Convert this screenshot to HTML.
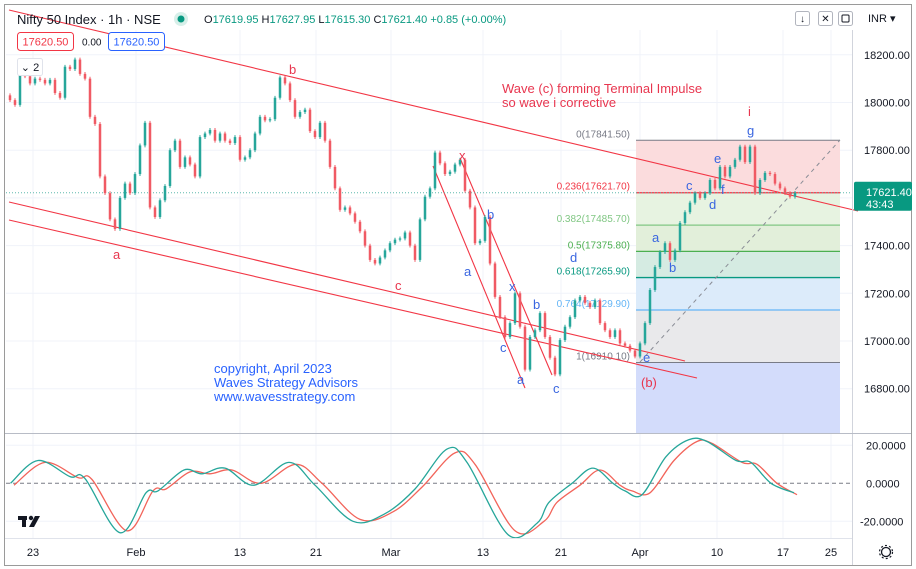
<!DOCTYPE html>
<html><head><meta charset="utf-8">
<style>
html,body{margin:0;padding:0;background:#fff;}
svg{display:block;font-family:"Liberation Sans",sans-serif;}
</style></head>
<body>
<svg id="chart" width="916" height="569" viewBox="0 0 916 569" xmlns="http://www.w3.org/2000/svg">
<rect x="0" y="0" width="916" height="569" fill="#fff"/>
<rect x="4.5" y="4.5" width="907" height="561" fill="none" stroke="#9a9a9a" stroke-width="1"/>
<g id="grid"></g>
<g id="fib"></g>
<g id="lines"></g>
<g id="candles"></g>
<g id="osc"></g>
<g id="axes"></g>

<text x="17" y="24" font-size="13" fill="#131722">Nifty 50 Index · 1h · NSE</text>
<circle cx="181" cy="19" r="7" fill="#d7efe9"/>
<circle cx="181" cy="19" r="3.5" fill="#089981"/>
<text x="204" y="23" font-size="11" fill="#089981"><tspan fill="#131722">O</tspan>17619.95 <tspan fill="#131722">H</tspan>17627.95 <tspan fill="#131722">L</tspan>17615.30 <tspan fill="#131722">C</tspan>17621.40 +0.85 (+0.00%)</text>
<rect x="17.5" y="32.5" width="56" height="18" rx="3" fill="#fff" stroke="#f23645"/>
<text x="45.5" y="45.5" font-size="11" fill="#f23645" text-anchor="middle">17620.50</text>
<text x="82" y="45.5" font-size="10" fill="#131722">0.00</text>
<rect x="108.5" y="32.5" width="56" height="18" rx="3" fill="#fff" stroke="#2962ff"/>
<text x="136.5" y="45.5" font-size="11" fill="#2962ff" text-anchor="middle">17620.50</text>
<rect x="17.5" y="58.5" width="25" height="17" rx="2" fill="#fff" stroke="#e0e3eb"/>
<text x="30" y="71" font-size="11" fill="#131722" text-anchor="middle">⌄ 2</text>
<g>
<rect x="795.5" y="11.5" width="14" height="14" rx="2" fill="none" stroke="#b2b5be"/>
<text x="802.5" y="22" font-size="10" text-anchor="middle" fill="#131722">↓</text>
<rect x="818.5" y="11.5" width="14" height="14" rx="2" fill="none" stroke="#b2b5be"/>
<text x="825.5" y="22" font-size="10" text-anchor="middle" fill="#131722">✕</text>
<rect x="838.5" y="11.5" width="14" height="14" rx="2" fill="none" stroke="#b2b5be"/>
<rect x="842" y="15" width="7" height="7" rx="1" fill="none" stroke="#131722"/>
</g>
<text x="868" y="22" font-size="11" fill="#131722">INR ▾</text>

<g font-size="13" fill="#e8364f">
<text x="502" y="93">Wave (c) forming Terminal Impulse</text>
<text x="502" y="107">so wave i corrective</text>
<text x="289" y="74">b</text><text x="113" y="259">a</text><text x="395" y="290">c</text>
<text x="459" y="160">x</text><text x="641" y="387">(b)</text><text x="748" y="116" style="fill:#e8364f">i</text>
</g>
<g font-size="13" fill="#3a66e0">
<text x="487" y="219">b</text><text x="464" y="276">a</text><text x="500" y="352">c</text>
<text x="509" y="291">x</text><text x="517" y="384">a</text><text x="533" y="309">b</text>
<text x="553" y="393">c</text><text x="570" y="262">d</text><text x="643" y="362">e</text>
<text x="652" y="242">a</text><text x="669" y="272">b</text><text x="686" y="190">c</text>
<text x="709" y="209">d</text><text x="714" y="163">e</text><text x="721" y="194">f</text>
<text x="747" y="135">g</text>
</g>
<g font-size="13" fill="#2962ff">
<text x="214" y="373">copyright, April 2023</text>
<text x="214" y="387">Waves Strategy Advisors</text>
<text x="214" y="401">www.wavesstrategy.com</text>
</g>
<g>
<rect x="18" y="516" width="9" height="4" fill="#131722"/><rect x="22" y="516" width="4" height="11" fill="#131722"/>
<circle cx="31" cy="518" r="2.2" fill="#131722"/><polygon points="35,516 40,516 34,527 29,527" fill="#131722"/>
</g>
<g>
<circle cx="886" cy="552" r="4.5" fill="none" stroke="#131722" stroke-width="1.3"/>
<circle cx="886" cy="552" r="6.5" fill="none" stroke="#131722" stroke-width="1.2" stroke-dasharray="2 2.2"/>
</g>
</svg>

<script>
const closes = [18010,17990,18124,18110,18080,18100,18095,18080,18095,18040,18020,18150,18140,18180,18120,18100,17940,17910,17690,17620,17510,17470,17600,17660,17620,17700,17820,17915,17560,17520,17590,17650,17800,17840,17730,17770,17740,17690,17855,17870,17885,17840,17870,17840,17830,17855,17760,17770,17800,17870,17940,17925,17930,18020,18105,18080,18010,17940,17960,17970,17880,17855,17915,17840,17730,17640,17550,17560,17535,17500,17460,17400,17340,17325,17350,17380,17410,17425,17430,17455,17400,17340,17510,17605,17640,17790,17745,17700,17710,17740,17760,17630,17560,17410,17420,17520,17325,17185,17100,17017,17075,17200,17060,16880,17017,17045,17117,17017,16930,16860,17004,17060,17100,17170,17185,17160,17142,17170,17075,17045,17017,17045,16990,16980,16960,16935,16990,17075,17214,17310,17373,17410,17340,17380,17495,17540,17580,17620,17600,17620,17675,17640,17730,17690,17730,17760,17815,17750,17815,17620,17675,17705,17700,17660,17640,17620,17605,17621];
const priceTicks = [18200,18000,17800,17400,17200,17000,16800];
const dateLabels = ['23','Feb','13','21','Mar','13','21','Apr','10','17','25'];
const dateBars = [4.6,25.2,46,61.2,76.2,94.6,110.2,126,141.4,154.6,164.2];
const fibRatios = [0,0.236,0.382,0.5,0.618,0.764,1];
const fibHigh = 17841.5, fibLow = 16910.1;
const oscFastBars = [0.1,5.6,12,15,22,27.2,29.6,34.8,38.4,43,48.8,55.8,61,68.6,75,81,87.4,91.4,99.6,105.4,107.8,112.4,116.6,120.6,123,126.4,131.2,135.8,139.4,145.2,148.2,152.2,156.8];
const oscFast = [0,12,3.5,2.5,-26,-5,-4,7,5,8,-1,11,-1,-20,-16,-3,18,11,-27,-21,-10,0,8,0,-4,-6,14,23,22,12,11,0,-5];
const oscSlowBars = [0.8,7,13.6,16.4,23.4,28.6,31.2,36,40,44.4,50.2,57.2,62.4,70,76.6,82.4,89,93,101,106.8,109.4,114,118,122,124.4,128,132.8,137.4,140.4,146.4,149.4,153.4,157.4];
const oscSlow = [-1,11,3,2,-25,-4,-3,6,5,7,0,10,0,-19,-15,-2,16,10,-25,-20,-10,-1,7,-1,-4,-5,12,22,21,11,10,0,-6];
const oscTicks = [20,0,-20];
const lastPrice = 17621.40;

const NS='http://www.w3.org/2000/svg';
const xOf = b => 10 + b*5;
const yOf = p => 341 - (p-17000)*0.2385;
const yOsc = v => 483.3 - v*1.9;
function mk(tag, attrs, parent){const e=document.createElementNS(NS,tag);for(const k in attrs)e.setAttribute(k,attrs[k]);parent.appendChild(e);return e;}
const G=id=>document.getElementById(id);

const grid=G('grid');
dateBars.forEach(b=>{const l=mk('line',{x1:xOf(b),x2:xOf(b),y1:30,y2:538,stroke:'#f0f3fa'},grid);

});
priceTicks.concat([17600]).forEach(p=>{const l=mk('line',{x1:6,x2:852,y1:yOf(p),y2:yOf(p),stroke:'#f0f3fa'},grid);

});
oscTicks.forEach(v=>{if(v!==0){const l=mk('line',{x1:6,x2:852,y1:yOsc(v),y2:yOsc(v),stroke:'#f0f3fa'},grid);

}});

const fib=G('fib');
const fx1=636, fx2=840;
const fibFills=['#fbdcdd','#e7f3e1','#e2efda','#d5ebe2','#dcebfa','#e9e9eb'];
const fibColors=['#787b86','#f23645','#81c784','#4caf50','#089981','#64b5f6','#787b86'];
const fibPrice = r => fibHigh - r*(fibHigh-fibLow);
for(let i=0;i<fibRatios.length-1;i++){
 const y1=yOf(fibPrice(fibRatios[i])), y2=yOf(fibPrice(fibRatios[i+1]));
 const r=mk('rect',{x:fx1,y:y1,width:fx2-fx1,height:y2-y1,fill:fibFills[i]},fib);
 
 
}
{const yb=yOf(fibLow);const r=mk('rect',{x:fx1,y:yb,width:fx2-fx1,height:433-yb,fill:'#d3dcfb'},fib);

}
fibRatios.forEach((r,i)=>{
 const p=fibPrice(r), y=yOf(p);
 const l=mk('line',{x1:fx1,x2:fx2,y1:y,y2:y,stroke:fibColors[i],'stroke-width':(i===0||i===6)?1:1.3},fib);
 
 
 const t=mk('text',{x:630,y:y-3,'font-size':10,'text-anchor':'end',fill:fibColors[i]},fib);
 t.textContent=r+'('+(Math.round(p*20)/20).toFixed(2)+')';
 
 
});

const lines=G('lines');
[[9,10,858,211],[9,202,685,361],[9,220,697,378],[433,166,525,388],[460,158,552,375]].forEach(c=>{
 const l=mk('line',{x1:c[0],y1:c[1],x2:c[2],y2:c[3],stroke:'#f23645','stroke-width':1.1},lines);
 
 
});
{const l=mk('line',{x1:640,y1:362,x2:840,y2:140,stroke:'#8a8d96','stroke-dasharray':'4 4'},lines);

}
{const l=mk('line',{x1:6,x2:852,y1:yOf(lastPrice),y2:yOf(lastPrice),stroke:'#5fb8ad','stroke-dasharray':'1 2'},lines);

}

const cg=G('candles');
closes.forEach((c,i)=>{
 const o = i===0 ? c+20 : closes[i-1];
 const up = c>=o;
 const col = up ? '#26a69a' : '#f05a64';
 const x=xOf(i);
 const hi=Math.max(o,c)+8, lo=Math.min(o,c)-8;
 const w=mk('line',{x1:x,x2:x,y1:yOf(hi),y2:yOf(lo),stroke:col,'stroke-width':1},cg);
 
 
 const yt=yOf(Math.max(o,c)), yb=yOf(Math.min(o,c));
 const b=mk('rect',{x:x-1.25,y:yt,width:2.5,height:Math.max(1,yb-yt),fill:col},cg);
 
 
});

const og=G('osc');
{const l=mk('line',{x1:6,x2:852,y1:yOsc(0),y2:yOsc(0),stroke:'#787b86','stroke-dasharray':'4 3'},og);

}
function smooth(bars,vals){
 const pts=bars.map((b,i)=>[xOf(b),yOsc(vals[i])]);
 let d='M'+pts[0][0]+','+pts[0][1];
 for(let i=0;i<pts.length-1;i++){
  const p0=pts[Math.max(0,i-1)],p1=pts[i],p2=pts[i+1],p3=pts[Math.min(pts.length-1,i+2)];
  d+=' C'+(p1[0]+(p2[0]-p0[0])/6)+','+(p1[1]+(p2[1]-p0[1])/6)+' '+(p2[0]-(p3[0]-p1[0])/6)+','+(p2[1]-(p3[1]-p1[1])/6)+' '+p2[0]+','+p2[1];
 }
 return d;
}
{const p=mk('path',{d:smooth(oscSlowBars,oscSlow),fill:'none',stroke:'#f2645a','stroke-width':1.3},og);

}
{const p=mk('path',{d:smooth(oscFastBars,oscFast),fill:'none',stroke:'#26a69a','stroke-width':1.3},og);

}

const ag=G('axes');
{const l=mk('line',{x1:852.5,x2:852.5,y1:30,y2:565,stroke:'#d1d4dc'},ag);

}
{const l=mk('line',{x1:5,x2:911,y1:433.5,y2:433.5,stroke:'#b8bcc6'},ag);

}
{const l=mk('line',{x1:5,x2:852,y1:538.5,y2:538.5,stroke:'#e0e3eb'},ag);

}
priceTicks.forEach(p=>{const t=mk('text',{x:864,y:yOf(p)+4,'font-size':11,fill:'#131722'},ag);
t.textContent=p.toFixed(2);

});
oscTicks.forEach(v=>{const t=mk('text',{x:v<0?860:866,y:yOsc(v)+4,'font-size':11,fill:'#131722'},ag);
t.textContent=v.toFixed(4);

});
dateLabels.forEach((s,i)=>{const t=mk('text',{x:xOf(dateBars[i]),y:556,'font-size':11,fill:'#131722','text-anchor':'middle'},ag);
t.textContent=s;

});
{const y=yOf(lastPrice);
const r=mk('rect',{x:854,y:y-11,width:58,height:29,rx:2,fill:'#089981'},ag);


const t=mk('text',{x:866,y:y+3,'font-size':11,fill:'#fff'},ag);t.textContent=lastPrice.toFixed(2);


const t2=mk('text',{x:866,y:y+15,'font-size':11,fill:'#fff'},ag);t2.textContent='43:43';

}
</script>
</body></html>
